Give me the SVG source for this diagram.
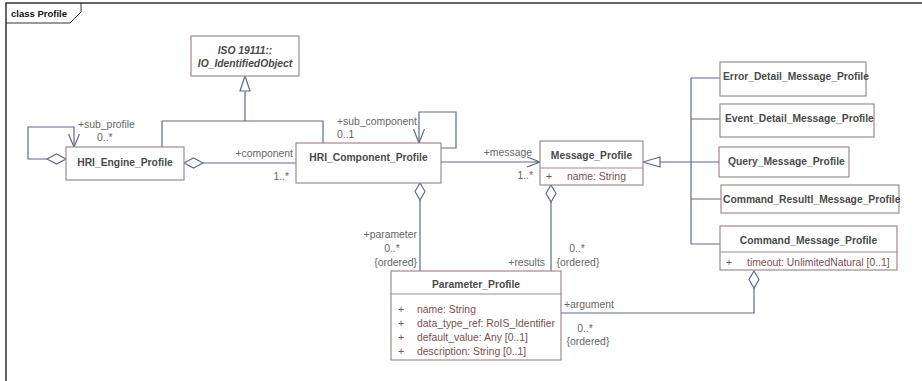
<svg xmlns="http://www.w3.org/2000/svg" width="922" height="381" viewBox="0 0 922 381">
<style>
.box{fill:#fff;stroke:#a08a8a;stroke-width:1.2}
.ln{fill:none;stroke:#5f6b8c;stroke-width:1.2}
.hd{fill:#fff;stroke:#5f6b8c;stroke-width:1.2}
.t{font-family:"Liberation Sans",Arial,sans-serif;font-size:10.3px;font-weight:bold;fill:#4a4a4a}
.ti{font-family:"Liberation Sans",Arial,sans-serif;font-size:10.3px;font-weight:bold;font-style:italic;fill:#4a4a4a}
.a{font-family:"Liberation Sans",Arial,sans-serif;font-size:10.4px;fill:#7a4f4f}
.l{font-family:"Liberation Sans",Arial,sans-serif;font-size:10.4px;fill:#666}
.fr{fill:none;stroke:#333;stroke-width:1.5}
</style>
<rect width="922" height="381" fill="#fff"/>
<g id="frame">
<path class="fr" d="M6,381 V3 H922"/>
<path fill="none" stroke="#333" stroke-width="1" d="M6,23 H70 L81,12 V3"/>
<text x="11" y="17" font-family="Liberation Sans,Arial,sans-serif" font-size="9.5" font-weight="bold" fill="#111">class Profile</text>
</g>
<g id="connectors">
<!-- generalization to ISO -->
<path class="ln" d="M162,147 V121 H323 V143 M245,121 V91"/>
<path class="hd" d="M245,76 L250,91 H240 Z"/>
<!-- sub_profile self loop -->
<path class="ln" d="M47,159 H28 V127 H74 V147"/>
<path class="hd" d="M66,159 L56.5,154 L47,159 L56.5,164 Z"/>
<path class="ln" d="M68.5,134 L74,147 L79.5,134"/>
<text class="l" x="78" y="128">+sub_profile</text>
<text class="l" x="97" y="141">0..*</text>
<!-- component -->
<path class="ln" d="M203,163 H296"/>
<path class="hd" d="M184,163 L193.5,158 L203,163 L193.5,168 Z"/>
<text class="l" x="293" y="157" text-anchor="end">+component</text>
<text class="l" x="289" y="180" text-anchor="end">1..*</text>
<!-- sub_component self loop -->
<path class="ln" d="M419,143 V112 H456 V148 H441"/>
<path class="ln" d="M413.5,129 L419,143 L424.5,129"/>
<text class="l" x="337" y="125">+sub_component</text>
<text class="l" x="337" y="138">0..1</text>
<!-- message -->
<path class="ln" d="M441,162 H540 M527,157 L540,162 L527,167"/>
<text class="l" x="532" y="156" text-anchor="end">+message</text>
<text class="l" x="533" y="179" text-anchor="end">1..*</text>
<!-- parameter -->
<path class="ln" d="M420,200 V271"/>
<path class="hd" d="M420,183 L425,191.5 L420,200 L415,191.5 Z"/>
<text class="l" x="417" y="238" text-anchor="end">+parameter</text>
<text class="l" x="392" y="252" text-anchor="middle">0..*</text>
<text class="l" x="417" y="266" text-anchor="end">{ordered}</text>
<!-- results -->
<path class="ln" d="M551,202 V271"/>
<path class="hd" d="M551,185 L556,193.5 L551,202 L546,193.5 Z"/>
<text class="l" x="545" y="266" text-anchor="end">+results</text>
<text class="l" x="577" y="252" text-anchor="middle">0..*</text>
<text class="l" x="578" y="266" text-anchor="middle">{ordered}</text>
<!-- argument -->
<path class="ln" d="M561,313 H754 V288"/>
<path class="hd" d="M754,271 L759,279.5 L754,288 L749,279.5 Z"/>
<text class="l" x="564" y="308">+argument</text>
<text class="l" x="585" y="332" text-anchor="middle">0..*</text>
<text class="l" x="588" y="345" text-anchor="middle">{ordered}</text>
<!-- generalization to Message -->
<path class="ln" d="M660,162 H691 M691,78 V244 M691,78 H720 M691,119 H720 M691,162 H719 M691,199 H721 M691,244 H720"/>
<path class="hd" d="M643,162 L660,157 V167 Z"/>
</g>
<g id="iso">
<rect class="box" x="191" y="36" width="108" height="40"/>
<text class="ti" x="245" y="54" text-anchor="middle">ISO 19111::</text>
<text class="ti" x="245" y="67" text-anchor="middle">IO_IdentifiedObject</text>
</g>
<g id="engine">
<rect class="box" x="66" y="147" width="118" height="33"/>
<text class="t" x="125" y="166" text-anchor="middle">HRI_Engine_Profile</text>
</g>
<g id="component">
<rect class="box" x="296" y="143" width="145" height="40"/>
<text class="t" x="368.5" y="161" text-anchor="middle">HRI_Component_Profile</text>
</g>
<g id="message">
<rect class="box" x="540" y="141" width="103" height="44"/>
<line class="box" x1="540" y1="168" x2="643" y2="168"/>
<text class="t" x="591.5" y="159" text-anchor="middle">Message_Profile</text>
<text class="a" x="546" y="180">+</text>
<text class="a" x="567" y="180">name: String</text>
</g>
<g id="parameter">
<rect class="box" x="391" y="271" width="170" height="89"/>
<line class="box" x1="391" y1="294" x2="561" y2="294"/>
<text class="t" x="476" y="288" text-anchor="middle">Parameter_Profile</text>
<text class="a" x="398" y="313">+</text>
<text class="a" x="417" y="313">name: String</text>
<text class="a" x="398" y="327">+</text>
<text class="a" x="417" y="327">data_type_ref: RoIS_Identifier</text>
<text class="a" x="398" y="341">+</text>
<text class="a" x="417" y="341">default_value: Any [0..1]</text>
<text class="a" x="398" y="355">+</text>
<text class="a" x="417" y="355">description: String [0..1]</text>
</g>
<g id="error">
<rect class="box" x="720" y="62" width="146" height="34"/>
<text class="t" x="723" y="80">Error_Detail_Message_Profile</text>
</g>
<g id="event">
<rect class="box" x="720" y="104" width="154" height="33"/>
<text class="t" x="725" y="122">Event_Detail_Message_Profile</text>
</g>
<g id="query">
<rect class="box" x="719" y="147" width="130" height="30"/>
<text class="t" x="728" y="165">Query_Message_Profile</text>
</g>
<g id="cmdresult">
<rect class="box" x="721" y="185" width="178" height="28"/>
<text class="t" x="723" y="203">Command_Resultl_Message_Profile</text>
</g>
<g id="command">
<rect class="box" x="720" y="226" width="177" height="44"/>
<line class="box" x1="720" y1="252" x2="897" y2="252"/>
<text class="t" x="808.5" y="244" text-anchor="middle">Command_Message_Profile</text>
<text class="a" x="726" y="266">+</text>
<text class="a" x="747" y="266">timeout: UnlimitedNatural [0..1]</text>
</g>
</svg>
